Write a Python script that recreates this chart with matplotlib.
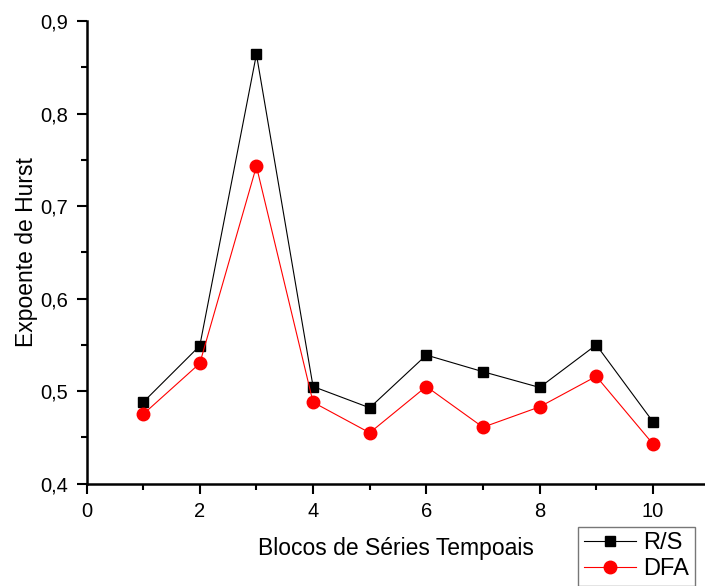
import numpy as np, matplotlib
matplotlib.use('Agg')
import matplotlib.pyplot as plt
from matplotlib.ticker import MultipleLocator, FuncFormatter

plt.rcParams['font.family'] = ['Liberation Sans', 'DejaVu Sans']

# ── data ──
blocos = [1, 2, 3, 4, 5, 6, 7, 8, 9, 10]
rs  = [0.488, 0.549, 0.864, 0.505, 0.482, 0.539, 0.521, 0.504, 0.550, 0.467]
dfa = [0.475, 0.530, 0.743, 0.488, 0.455, 0.505, 0.461, 0.483, 0.516, 0.443]

fig = plt.figure(figsize=(7.05, 5.86), dpi=100)
ax = fig.add_axes([0.1227, 0.1746, 0.8773, 0.7896])

ax.plot(blocos, rs, color='black', lw=0.8, marker='s', ms=7.5,
        label='R/S', zorder=3)
ax.plot(blocos, dfa, color='red', lw=0.8, marker='o', ms=9,
        label='DFA', zorder=3)

ax.set_xlim(0, 10.92)
ax.set_ylim(0.4, 0.9)
ax.xaxis.set_major_locator(MultipleLocator(2))
ax.xaxis.set_minor_locator(MultipleLocator(1))
ax.yaxis.set_major_locator(MultipleLocator(0.1))
ax.yaxis.set_minor_locator(MultipleLocator(0.05))
ax.yaxis.set_major_formatter(FuncFormatter(lambda v, p: f'{v:.1f}'.replace('.', ',')))
ax.tick_params(which='major', direction='out', length=7, width=1.5,
               labelsize=14.5, pad=6)
ax.tick_params(which='minor', direction='out', length=4, width=1.5)

ax.spines['top'].set_visible(False)
ax.spines['right'].set_visible(False)
ax.spines['left'].set_linewidth(1.8)
ax.spines['bottom'].set_linewidth(1.8)

ax.set_xlabel('Blocos de Séries Tempoais', fontsize=16.5, labelpad=12)
ax.set_ylabel('Expoente de Hurst', fontsize=16.5, labelpad=2)

leg = ax.legend(loc='lower left', bbox_to_anchor=(0.795, -0.221),
                fontsize=17, frameon=True, fancybox=False,
                edgecolor='#555555', handlelength=2.2, borderpad=0.25,
                labelspacing=0.15, handletextpad=0.3, borderaxespad=0)
leg.get_frame().set_linewidth(1.0)

plt.savefig('out.png', dpi=100)
